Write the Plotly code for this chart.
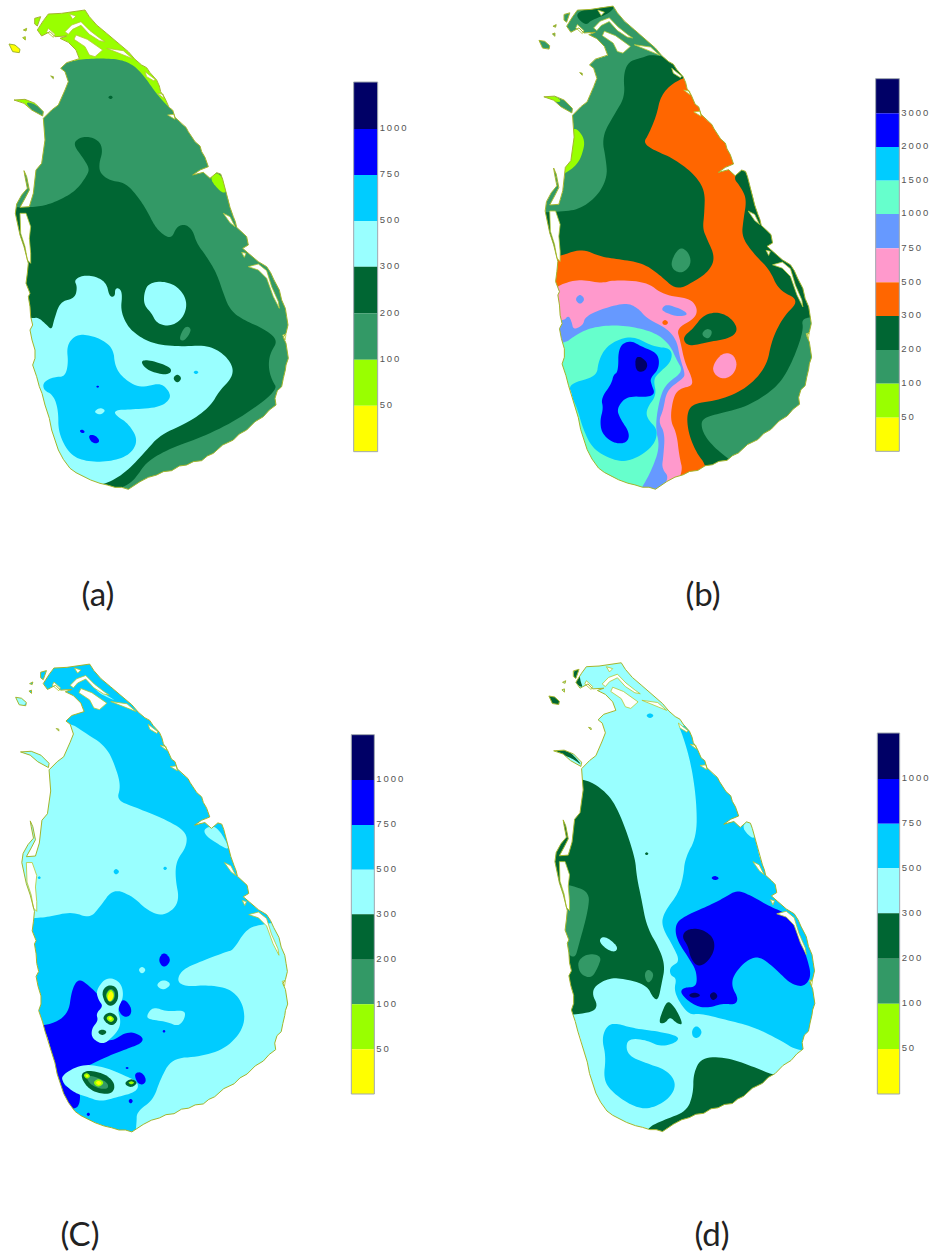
import plotly.graph_objects as go

W, H = 932, 1255
NAVY, BLUE, SKY, PALE = "#000066", "#0000ff", "#00ccff", "#99ffff"
DARK, GREEN, LIME, YEL = "#006633", "#339966", "#99ff00", "#ffff00"
AQUA, PERI, PINK, ORNG = "#66ffcc", "#6699ff", "#ff99cc", "#ff6600"

# ---- shared coastline, in the units of panel (a) (3 units = 1 px) ----
COAST = [(130,62),(145,42),(185,40),(215,35),(255,30),(268,50),(290,75),(320,100),(350,125),(385,155),(405,178),
(425,195),(440,203),(450,218),(470,240),(478,258),(482,275),(495,295),(507,322),(518,330),(525,352),(545,372),(558,382),(565,395),(585,425),(600,438),
(605,455),(615,472),(625,500),(600,510),(578,525),(610,517),(630,535),(650,518),(662,522),(668,538),(678,575),(685,600),(690,622),(700,650),
(706,665),(710,682),(728,698),(740,710),(745,735),(728,745),(748,762),(775,785),(800,800),(812,818),(822,840),(838,870),(845,900),(856,925),(860,950),(864,975),(858,1000),
(850,1012),(858,1030),(865,1075),(858,1095),(856,1110),(850,1135),(845,1160),(832,1172),(825,1195),(828,1215),(808,1230),(790,1250),(765,1265),(740,1290),(718,1302),(700,1320),(668,1335),(640,1360),(622,1368),
(605,1382),(580,1385),(560,1395),(538,1398),(515,1412),(490,1415),(470,1425),(445,1432),(420,1445),(400,1458),(385,1468),(365,1462),(345,1462),(322,1455),(300,1450),(272,1440),(250,1430),(228,1418),(210,1405),(190,1378),
(175,1350),(165,1320),(155,1290),(148,1255),(135,1215),(126,1180),(118,1160),(110,1130),(98,1095),(105,1075),(105,1050),(96,1020),(90,990),(98,975),(92,950),(90,920),(85,890),(90,880),(78,850),(82,820),(85,790),
(72,740),(60,705),(46,640),(50,612),(65,585),(82,565),(75,530),(72,512),(80,530),(88,570),(75,595),(60,622),
(88,620),(100,580),(108,510),(125,490),(135,420),(130,355),(155,330),(175,315),(195,270),(205,245),(195,215),
(182,205),(200,188),(238,176),(228,150),(205,127),(180,115),(200,108),(165,110),(150,95),(125,108),(112,90)]
ISLANDS = [
 [(27,132),(45,135),(60,148),(58,158),(38,155)],
 [(42,300),(75,298),(105,310),(130,335),(128,348),(95,330),(72,310)],
 [(104,55),(122,50),(112,78),(104,72)],
 [(70,90),(80,85),(78,93)], [(68,113),(76,110),(76,120)], [(152,228),(160,230),(160,236)],
]
LAGOONS = [
 [(228,105),(262,118),(308,150),(285,170),(268,165),(255,140),(222,118)],
 [(60,640),(78,640),(92,680),(88,715),(92,760),(92,790),(82,780),(75,740),(62,700)],
 [(195,95),(215,75),(243,65),(270,92),(300,115),(315,125),(298,122),(268,103),(243,76),(218,88),(205,103)],
 [(320,145),(370,152),(398,176),(365,162),(335,150)],
 [(145,85),(165,103),(160,112),(140,95)],
 [(208,42),(228,48),(218,58)],
 [(435,215),(465,238),(462,243),(440,230)],
 [(472,280),(490,283),(492,295)], [(503,345),(522,343),(525,358)],
 [(670,640),(690,650),(705,680),(690,668)],
 [(745,800),(775,792),(800,812),(815,860),(835,905),(838,925),(820,890),(800,835),(775,810)],
 [(848,1005),(858,1003),(855,1020)], [(725,757),(738,760),(733,772)],
]

# per-panel placement of the shared coastline: (x scale, x shift, y scale, y shift)
FIT_A = (1.0, 0.0, 1.0, 0.0)
FIT_B = (0.976, 30.6, 1.008, -12.0)
FIT_C = (0.974, 20.6, 0.976, 13.0)
FIT_D = (0.952, 61.0, 0.978, 9.0)
ORIGIN_A, ORIGIN_B, ORIGIN_C, ORIGIN_D = (0, 0), (520, 0), (0, 650), (520, 650)

# ---- rainfall classes drawn in paint order, panel units ----
A_LAYERS = [
 (LIME, [COAST]),
 (GREEN, [[(0,400),(100,360),(150,205),(190,190),(240,178),(300,175),(360,178),(400,195),(430,225),(465,275),(490,305),(520,335),(560,360),(950,500),(950,1500),(0,1500)],
          [(75,305),(105,312),(132,335),(130,352),(95,332)]]),
 (LIME, [[(628,535),(650,515),(672,540),(680,580),(660,575)]]),
 (YEL, [[(27,132),(45,135),(60,148),(58,160),(38,155)]]),
 (DARK, [[(0,622),(85,622),(130,618),(180,600),(230,570),(262,525),(268,505),(250,475),(218,432),(240,412),(270,410),(300,425),(308,455),(297,490),(300,520),(330,542),(375,548),(410,585),(440,630),(465,680),(490,705),(515,715),(530,680),(555,672),(578,690),(590,730),(620,770),(650,820),(670,880),(690,930),(730,960),(790,985),(835,1020),(810,1060),(805,1100),(815,1140),(835,1170),(720,1255),(610,1310),(510,1345),(440,1385),(410,1430),(385,1455),(330,1475),(0,1500)],
         [(325,292),(332,287),(338,292),(332,297)]]),
 (PALE, [[(0,955),(97,955),(115,952),(140,975),(155,990),(162,960),(180,905),(225,895),(232,860),(222,840),(250,825),(290,830),(320,850),(328,890),(345,890),(345,865),(360,865),(367,885),(362,930),(380,975),(410,1005),(460,1032),(540,1040),(620,1035),(670,1060),(700,1100),(695,1135),(660,1170),(630,1220),(570,1265),(480,1305),(440,1350),(380,1415),(320,1452),(260,1460),(0,1500)],
         [(432,880),(445,850),(490,843),(535,860),(563,905),(550,955),(510,980),(470,970),(455,940),(432,915)]]),
 (DARK, [[(420,1082),(450,1080),(510,1100),(515,1118),(490,1125),(440,1110)],
         [(521,1135),(532,1124),(543,1135),(532,1147)], [(411,972),(416,968),(420,972),(416,976)]]),
 (GREEN, [[(540,1015),(555,982),(572,990),(555,1018)]]),
 (SKY, [[(130,1145),(165,1130),(195,1130),(205,1090),(200,1040),(220,1010),(250,1002),(300,1015),(340,1045),(345,1100),(370,1135),(420,1165),(480,1148),(505,1170),(513,1195),(480,1222),(400,1228),(345,1230),(345,1245),(385,1270),(415,1320),(390,1365),(330,1385),(260,1385),(210,1365),(175,1300),(175,1230),(160,1185),(130,1170)],
        [(581,1117),(588,1112),(595,1117),(588,1122)]]),
 (PALE, [[(285,1235),(300,1225),(314,1232),(300,1243)]]),
 (BLUE, [[(265,1305),(285,1305),(300,1322),(290,1332),(272,1325)], [(240,1293),(247,1289),(254,1296),(246,1299)], [(289,1160),(293,1157),(297,1160),(293,1163)]]),
]
B_LAYERS = [
 (GREEN, [COAST]),
 (LIME, [[(155,372),(197,415),(185,470),(165,500),(128,525),(100,525),(150,470)], [(68,292),(105,290),(120,305),(90,302)]]),
 (DARK, [[(160,38),(235,20),(288,16),(268,40),(215,60),(195,78)],
         [(325,185),(360,175),(410,158),(950,300),(950,1500),(0,1500),(0,640),(120,635),(180,628),(235,585),(262,530),(258,480),(245,410),(285,340),(315,290),(310,225)]]),
 (ORNG, [[(490,232),(530,230),(700,490),(635,527),(665,565),(680,600),(670,660),(665,710),(700,760),(750,810),(775,870),(840,900),(790,950),(755,1020),(740,1100),(680,1165),(600,1200),(520,1210),(500,1240),(505,1300),(530,1360),(560,1397),(570,1500),(0,1500),(0,790),(110,772),(185,745),(240,770),(300,778),(370,790),(420,825),(470,872),(530,840),(570,810),(585,770),(560,715),(548,685),(553,640),(555,570),(520,520),(460,475),(400,450),(370,428),(385,405),(410,345),(420,295),(445,260)]]),
 (DARK, [[(490,1010),(520,985),(550,945),(595,935),(635,955),(655,990),(630,1015),(570,1025),(515,1038),(495,1030)]]),
 (GREEN, [[(870,950),(845,960),(850,985),(835,1040),(800,1120),(760,1170),(680,1220),(600,1240),(545,1255),(545,1290),(570,1330),(625,1378),(700,1420),(950,1400),(950,950)],
          [(547,1003),(560,988),(575,995),(565,1015)], [(452,785),(478,740),(505,755),(515,790),(490,820),(460,812)]]),
 (PINK, [[(572,1110),(600,1062),(635,1058),(653,1090),(640,1125),(605,1140)],
         [(0,880),(105,865),(130,850),(180,838),(245,850),(280,840),(380,845),(430,885),(510,895),(533,925),(525,955),(470,985),(480,1020),(495,1090),(515,1130),(518,1158),(480,1165),(460,1190),(450,1260),(470,1300),(478,1370),(490,1418),(440,1500),(0,1500)]]),
 (ORNG, [[(427,968),(435,960),(444,968),(435,975)]]),
 (PERI, [[(425,925),(440,912),(490,930),(505,945),(470,950),(430,935)], [(168,898),(180,885),(192,898),(180,911)],
         [(0,965),(130,965),(145,945),(155,965),(160,990),(190,975),(195,950),(250,925),(320,908),(355,925),(380,955),(440,985),(470,1020),(480,1075),(495,1120),(490,1135),(440,1170),(430,1230),(415,1265),(435,1300),(430,1370),(425,1405),(450,1435),(400,1500),(0,1500)]]),
 (AQUA, [[(0,1050),(135,1030),(160,1010),(205,985),(270,975),(340,980),(410,1000),(450,1035),(470,1080),(490,1115),(440,1150),(420,1190),(405,1280),(420,1340),(395,1410),(365,1465),(340,1500),(0,1500)]]),
 (SKY, [[(150,1150),(230,1130),(235,1085),(255,1045),(290,1020),(340,1008),(400,1040),(455,1045),(455,1085),(415,1120),(400,1140),(410,1185),(380,1225),(380,1255),(415,1290),(400,1340),(340,1380),(290,1385),(220,1350),(190,1290),(170,1220),(150,1180)]]),
 (BLUE, [[(295,1040),(330,1020),(365,1040),(415,1060),(418,1105),(390,1135),(395,1155),(405,1180),(385,1192),(320,1188),(290,1225),(300,1255),(330,1300),(320,1330),(280,1330),(245,1300),(240,1260),(250,1225),(243,1195),(275,1150),(280,1125),(295,1115)]]),
 (NAVY, [[(345,1075),(360,1068),(385,1090),(375,1115),(348,1115)]]),
]
C_LAYERS = [
 (SKY, [COAST]),
 (PALE, [[(0,215),(205,215),(250,245),(320,290),(350,360),(362,410),(350,450),(400,470),(490,505),(560,545),(560,590),(530,630),(525,680),(540,760),(490,800),(440,780),(400,740),(340,715),(300,770),(270,805),(215,785),(150,800),(100,805),(0,810)],
         [(40,140),(60,135),(85,155),(60,175),(40,160)],
         [(700,900),(740,835),(790,822),(950,800),(950,1500),(400,1500),(410,1420),(410,1385),(460,1350),(480,1290),(515,1225),(600,1220),(680,1195),(735,1130),(730,1060),(690,1015),(620,1005),(560,1010),(530,995),(545,960),(600,935),(680,905)],
         [(612,535),(650,525),(695,605),(650,580),(615,555)], [(285,105),(310,130),(345,150),(295,128)],
         [(417,960),(426,951),(436,960),(426,970)], [(472,1005),(490,991),(510,1003),(490,1018)],
         [(440,1095),(460,1070),(500,1085),(555,1080),(555,1105),(535,1130),(500,1115),(445,1108)]]),
 (SKY, [[(341,665),(348,657),(357,665),(348,673)], [(490,655),(495,650),(501,655),(495,660)], [(113,683),(118,679),(122,683),(118,687)]]),
 (BLUE, [[(0,1130),(140,1130),(205,1095),(215,1020),(235,985),(265,1005),(300,1040),(320,1075),(305,1095),(295,1130),(300,1165),(335,1175),(385,1142),(430,1160),(425,1180),(385,1195),(320,1220),(270,1245),(225,1260),(190,1270),(190,1310),(240,1320),(240,1360),(225,1380),(0,1400)],
         [(350,1065),(373,1045),(396,1075),(390,1100),(365,1100)], [(478,930),(492,910),(510,930),(492,950)],
         [(402,1270),(425,1265),(440,1290),(430,1305),(412,1300)],
         [(386,1353),(392,1347),(398,1353),(392,1360)], [(260,1393),(265,1388),(270,1393),(265,1398)],
         [(377,1254),(381,1251),(386,1254),(381,1257)], [(488,1144),(492,1140),(496,1144),(492,1148)]]),
 (PALE, [[(288,1020),(320,980),(362,995),(372,1040),(352,1078),(362,1110),(358,1135),(340,1158),(310,1185),(275,1165),(275,1135),(295,1112),(288,1090),(310,1068),(295,1050)],
         [(185,1275),(245,1242),(310,1250),(370,1275),(415,1295),(412,1325),(350,1342),(300,1355),(260,1340),(222,1328),(188,1298)]]),
 (DARK, [[(304,1025),(325,1003),(352,1012),(356,1048),(337,1070),(316,1062)], [(310,1105),(330,1088),(352,1105),(335,1126)],
         [(295,1146),(307,1139),(319,1146),(307,1155)], [(240,1275),(262,1260),(312,1270),(345,1298),(340,1330),(300,1332),(262,1314)],
         [(376,1300),(393,1288),(410,1298),(393,1311)]]),
 (GREEN, [[(258,1282),(275,1276),(322,1296),(326,1316),(300,1317),(272,1304)], [(316,1032),(330,1014),(345,1023),(345,1045),(332,1058),(321,1050)]]),
 (LIME, [[(318,1034),(330,1017),(342,1026),(342,1044),(332,1056),(323,1049)], [(320,1105),(330,1097),(342,1107),(332,1116)],
         [(252,1276),(260,1270),(270,1278),(260,1286)], [(282,1298),(295,1288),(310,1298),(295,1310)], [(386,1298),(394,1294),(402,1298),(394,1303)]]),
 (YEL, [[(323,1043),(332,1024),(340,1038),(330,1054)], [(288,1298),(296,1293),(304,1299),(296,1305)], [(257,1277),(261,1274),(265,1278),(261,1281)], [(326,1105),(331,1101),(336,1106),(331,1110)]]),
]
D_LAYERS = [
 (PALE, [COAST]),
 (SKY, [[(470,215),(490,260),(515,350),(530,460),(530,560),(495,625),(490,680),(475,730),(430,790),(425,830),(460,890),(480,935),(450,950),(450,975),(470,985),(462,1020),(480,1060),(510,1095),(540,1090),(620,1110),(700,1130),(780,1170),(835,1205),(950,1200),(950,200)],
        [(380,197),(390,190),(400,197),(390,204)], [(515,1140),(530,1125),(548,1145),(535,1165),(518,1162)],
        [(245,1165),(262,1125),(290,1120),(340,1135),(420,1145),(480,1160),(465,1180),(420,1190),(380,1170),(320,1165),(320,1215),(380,1240),(440,1260),(470,1300),(450,1345),(390,1378),(340,1370),(280,1330),(250,1290),(258,1220)]]),
 (PALE, [[(670,535),(685,515),(700,530),(702,565)]]),
 (DARK, [[(0,380),(185,380),(260,425),(300,490),(345,620),(350,680),(365,750),(380,830),(420,900),(435,950),(425,1000),(415,1050),(400,1045),(380,1005),(310,985),(260,985),(210,1020),(240,1080),(165,1095),(0,1100)],
         [(415,1120),(430,1075),(445,1050),(470,1080),(490,1125),(470,1120),(450,1100),(435,1120)],
         [(375,1437),(430,1410),(500,1385),(520,1330),(520,1270),(545,1222),(620,1222),(700,1250),(770,1280),(950,1290),(950,1500),(375,1500)],
         [(80,135),(105,140),(125,160),(100,168)], [(98,298),(135,296),(160,315),(188,348),(160,327),(130,315)],
         [(160,60),(178,56),(180,90),(190,115),(165,100)], [(375,611),(380,607),(385,611),(380,615)]]),
 (PALE, [[(235,870),(255,857),(295,890),(285,908),(255,895)]]),
 (GREEN, [[(120,703),(150,705),(208,725),(205,780),(175,890),(165,925),(140,910),(135,850),(125,760)],
          [(175,930),(205,910),(245,918),(235,950),(215,985),(185,975),(175,955)], [(375,975),(385,960),(400,975),(385,998)]]),
 (BLUE, [[(465,825),(490,800),(560,770),(610,745),(650,720),(690,735),(750,770),(800,790),(830,840),(860,920),(875,980),(850,1012),(810,1000),(770,960),(720,918),(680,930),(640,975),(635,1010),(655,1045),(645,1065),(610,1060),(560,1075),(520,1065),(480,1030),(490,1012),(530,1012),(530,965),(510,930),(470,870)],
         [(575,684),(585,678),(596,685),(585,690)]]),
 (NAVY, [[(485,860),(500,838),(540,835),(580,860),(585,900),(560,940),(530,950),(510,920),(505,890)],
         [(508,1035),(525,1028),(540,1037),(520,1043)], [(570,1035),(583,1027),(592,1040),(578,1050)]]),
]

# ---- colour keys ----
KEY_STD_COLORS = [NAVY, BLUE, SKY, PALE, DARK, GREEN, LIME, YEL]
KEY_STD_LABELS = ["1000", "750", "500", "300", "200", "100", "50"]
KEY_B_COLORS = [NAVY, BLUE, SKY, AQUA, PERI, PINK, ORNG, DARK, GREEN, LIME, YEL]
KEY_B_LABELS = ["3000", "2000", "1500", "1000", "750", "500", "300", "200", "100", "50"]
EDGES_A = [246, 387, 525, 663, 800, 940, 1079, 1217, 1355]
EDGES_B = [236, 340, 441, 542, 642, 745, 847, 948, 1050, 1151, 1253, 1354]
EDGES_C = [254, 390, 525, 659, 793, 929, 1063, 1198, 1332]
EDGES_D = [249, 387, 521, 655, 790, 926, 1061, 1197, 1332]
KEY_X_A, KEY_X_B, KEY_X_C, KEY_X_D = (1061, 1133), (1067, 1138), (1054, 1123), (1072, 1139)

PANEL_NAMES = ["(a)", "(b)", "(C)", "(d)"]
PANEL_NAME_X = [98, 703, 80, 712]
PANEL_NAME_Y = [598, 598, 1238, 1238]

fig = go.Figure()


def fit(poly, f):
    return [(x * f[0] + f[1], y * f[2] + f[3]) for x, y in poly]


def rounded(poly):
    """Round a traced contour's corners; the curve stays inside the traced outline."""
    pts = list(poly)
    if len(pts) <= 4:  # tiny blobs: offset the shrink of corner rounding
        cx = sum(p[0] for p in pts) / len(pts)
        cy = sum(p[1] for p in pts) / len(pts)
        pts = [(cx + (p[0] - cx) * 1.3, cy + (p[1] - cy) * 1.3) for p in pts]
    for _ in range(3):
        out = []
        for i, a in enumerate(pts):
            b = pts[(i + 1) % len(pts)]
            out.append((0.75 * a[0] + 0.25 * b[0], 0.75 * a[1] + 0.25 * b[1]))
            out.append((0.25 * a[0] + 0.75 * b[0], 0.25 * a[1] + 0.75 * b[1]))
        pts = out
    return pts


def px(poly, o):
    xs = [o[0] + p[0] / 3 for p in poly]
    ys = [o[1] + p[1] / 3 for p in poly]
    return xs + xs[:1], ys + ys[:1]


def add_fill(xs, ys, color, line=None):
    fig.add_trace(go.Scatter(x=xs, y=ys, fill="toself", fillcolor=color, mode="lines" if line else "none",
                             line=line, hoverinfo="skip", showlegend=False))


def panel(layers, f, o, edges, kx, colors, labels):
    coast = fit(COAST, f)
    isl = [fit(p, f) for p in ISLANDS]
    for color, polys in layers:
        for poly in polys:
            if poly is COAST:
                for extra in [coast] + isl:
                    add_fill(*px(extra, o), color)
            else:
                add_fill(*px(rounded(poly), o), color)
    # white outside the island
    rx, ry = px([(-30, -30), (-30, 1530), (960, 1530), (960, -30)], o)
    mx, my = list(rx), list(ry)
    for p in [coast] + isl:
        xs, ys = px(p, o)
        mx += [None] + xs
        my += [None] + ys
    add_fill(mx, my, "#ffffff")
    # lagoons and outlines
    for p in LAGOONS:
        add_fill(*px(fit(p, f), o), "#ffffff", dict(color="#b4c832", width=0.8))
    for p in [coast] + isl:
        xs, ys = px(p, o)
        fig.add_trace(go.Scatter(x=xs, y=ys, mode="lines", line=dict(color="#a3b52c", width=1),
                                 hoverinfo="skip", showlegend=False))
    # key
    tops = [o[1] + e / 3 for e in edges[:-1]]
    heights = [(edges[i + 1] - edges[i]) / 3 for i in range(len(edges) - 1)]
    cx = o[0] + (kx[0] + kx[1]) / 6
    fig.add_trace(go.Bar(x=[cx] * len(tops), y=heights, base=tops, width=(kx[1] - kx[0]) / 3,
                         marker=dict(color=colors, line=dict(width=0)), hoverinfo="skip", showlegend=False))
    bx, by = px([(kx[0], edges[0]), (kx[1], edges[0]), (kx[1], edges[-1]), (kx[0], edges[-1])], o)
    fig.add_trace(go.Scatter(x=bx, y=by, mode="lines", line=dict(color="#a0a8b0", width=1),
                             hoverinfo="skip", showlegend=False))
    lx = o[0] + kx[1] / 3 + 2
    fig.add_trace(go.Scatter(x=[lx] * len(labels), y=[o[1] + e / 3 for e in edges[1:-1]],
                             text=["\u2009".join(s) for s in labels], mode="text", textposition="middle right",
                             textfont=dict(family="Liberation Sans", size=9.5, color="#555555"),
                             hoverinfo="skip", showlegend=False))


panel(A_LAYERS, FIT_A, ORIGIN_A, EDGES_A, KEY_X_A, KEY_STD_COLORS, KEY_STD_LABELS)
panel(B_LAYERS, FIT_B, ORIGIN_B, EDGES_B, KEY_X_B, KEY_B_COLORS, KEY_B_LABELS)
panel(C_LAYERS, FIT_C, ORIGIN_C, EDGES_C, KEY_X_C, KEY_STD_COLORS, KEY_STD_LABELS)
panel(D_LAYERS, FIT_D, ORIGIN_D, EDGES_D, KEY_X_D, KEY_STD_COLORS, KEY_STD_LABELS)

fig.add_trace(go.Scatter(x=PANEL_NAME_X, y=PANEL_NAME_Y, text=PANEL_NAMES, mode="text", textposition="middle center",
                         textfont=dict(family="Lato", size=33, color="#222222"), hoverinfo="skip", showlegend=False))

fig.update_layout(width=W, height=H, margin=dict(l=0, r=0, t=0, b=0), paper_bgcolor="white", plot_bgcolor="white",
                  xaxis=dict(range=[0, W], visible=False, fixedrange=True),
                  yaxis=dict(range=[H, 0], visible=False, fixedrange=True),
                  barmode="overlay", showlegend=False)
fig.write_html("out.html", config={"displayModeBar": False},
               post_script="document.body.style.margin='0';document.body.style.overflow='hidden';")
